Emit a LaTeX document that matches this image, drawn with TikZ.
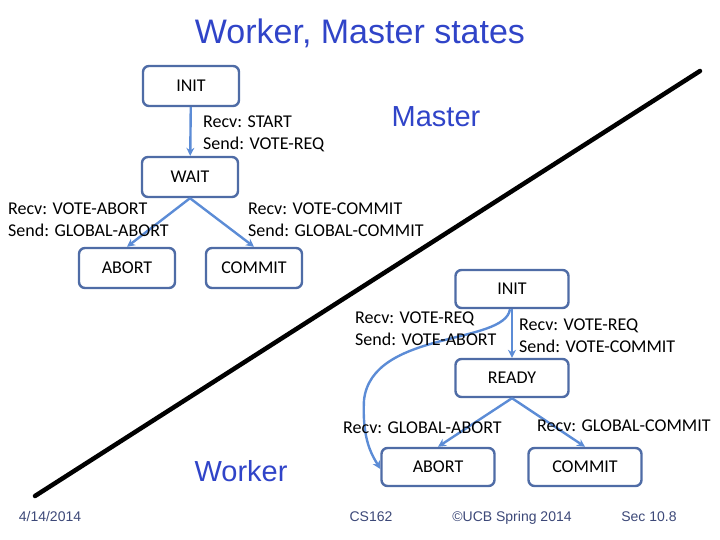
\documentclass[tikz,border=0pt]{standalone}
\usepackage{fontspec}
\setmainfont{Carlito}
\newfontfamily\arialfont{Liberation Sans}
\usetikzlibrary{arrows.meta}

\definecolor{boxline}{RGB}{79,108,166}
\definecolor{arrowblue}{RGB}{92,140,214}
\definecolor{titleblue}{RGB}{48,68,200}
\definecolor{footgray}{RGB}{60,72,120}

\tikzset{
  state/.style={draw=boxline, line width=2.4pt, rounded corners=6pt, fill=white,
    minimum width=96pt, minimum height=40pt, font=\fontsize{18}{22}\selectfont},
  wstate/.style={state, minimum width=113pt, minimum height=38pt},
  trans/.style={draw=arrowblue, line width=2.4pt, -{Stealth[length=8pt,width=8pt]}},
  lbl/.style={align=left, anchor=north west, inner sep=0pt, font=\fontsize{18}{22}\selectfont},
  foot/.style={anchor=base, text=footgray, font=\arialfont\fontsize{14}{16}\selectfont}
}

\begin{document}
\begin{tikzpicture}[x=1pt, y=-1pt]
 \useasboundingbox (0,0) rectangle (720,540);

 % --- TITULO ---
 \node[text=titleblue, font=\arialfont\fontsize{34}{40}\selectfont] (titulo) at (360,33) {Worker, Master states};

 % --- LINEA DIAGONAL ---
 \draw[line width=4.5pt, line cap=round] (35,496) -- (700,71);

 % --- MASTER ---
 \node[text=titleblue, font=\arialfont\fontsize{29}{34}\selectfont] (master) at (436,117) {Master};
 \node[state] (minit)   at (191,86)  {INIT};
 \node[state] (mwait)   at (190,177) {WAIT};
 \node[state] (mabort)  at (127,268) {ABORT};
 \node[state] (mcommit) at (254,268) {COMMIT};

 \draw[trans] (minit) -- (mwait);
 \draw[trans] (mwait.south) -- (mabort.north);
 \draw[trans] (mwait.south) -- (mcommit.north);

 \node[lbl] (lstart)  at (203,116) {Recv: START\\Send: VOTE-REQ};
 \node[lbl] (lvabort) at (8,203)   {Recv: VOTE-ABORT\\Send: GLOBAL-ABORT};
 \node[lbl] (lvcommit) at (248,203) {Recv: VOTE-COMMIT\\Send: GLOBAL-COMMIT};

 % --- WORKER ---
 \node[text=titleblue, font=\arialfont\fontsize{29}{34}\selectfont] (worker) at (241,471) {Worker};
 \node[wstate] (winit)   at (512,289) {INIT};
 \node[wstate] (wready)  at (512,378) {READY};
 \node[wstate] (wabort)  at (438,467) {ABORT};
 \node[wstate] (wcommit) at (585,467) {COMMIT};

 \draw[trans] (winit) -- (wready);
 \draw[trans] (wready.south) -- (wabort.north);
 \draw[trans] (wready.south) -- (wcommit.north);
 % voto negativo: directo a ABORT
 \draw[trans] ([xshift=-2pt]winit.south) .. controls (505,345) and (372,330) .. (364,400)
   .. controls (362,440) and (372,455) .. ([yshift=-2pt]wabort.west);

 \node[lbl] (lvreq)  at (355,312) {Recv: VOTE-REQ\\Send: VOTE-ABORT};
 \node[lbl] (lvreq2) at (519,319) {Recv: VOTE-REQ\\Send: VOTE-COMMIT};
 \node[lbl] (lgabort) at (343,422) {Recv: GLOBAL-ABORT};
 \node[lbl] (lgcommit) at (537,420) {Recv: GLOBAL-COMMIT};

 % --- PIE ---
 \node[foot] (fecha) at (50,521)  {4/14/2014};
 \node[foot] (curso) at (371,521) {CS162};
 \node[foot] (copy)  at (512,521) {©UCB Spring 2014};
 \node[foot] (sec)   at (649,521) {Sec 10.8};
\end{tikzpicture}
\end{document}
